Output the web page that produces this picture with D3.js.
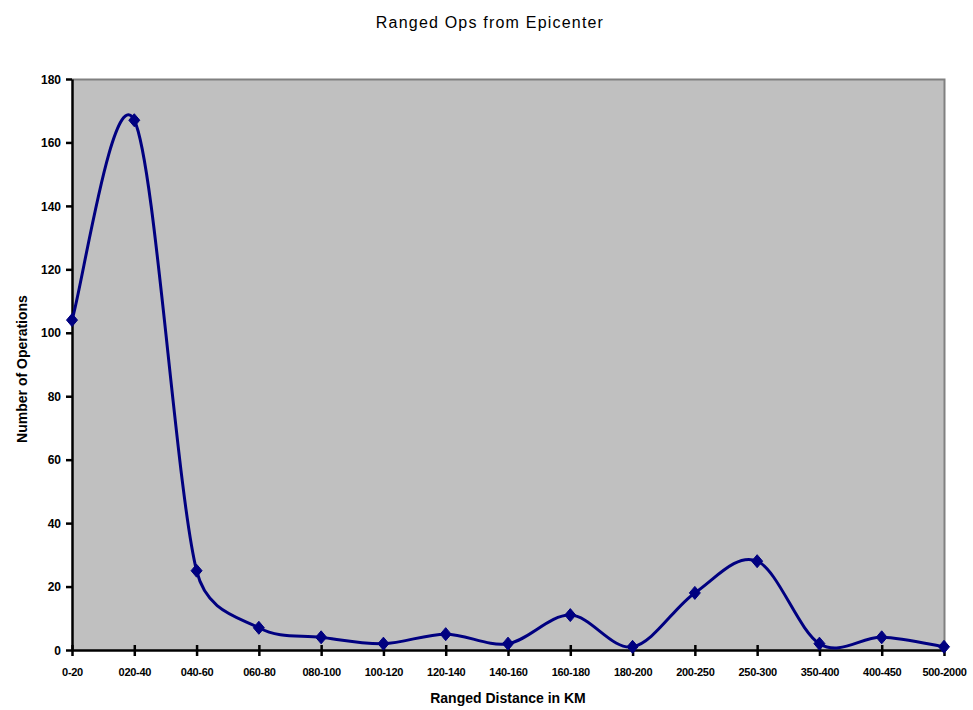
<!DOCTYPE html>
<html>
<head>
<meta charset="utf-8">
<script src="https://cdnjs.cloudflare.com/ajax/libs/d3/7.8.5/d3.min.js"></script>
<style>
  html, body { margin: 0; padding: 0; background: #ffffff; }
  svg { display: block; }
  text { font-family: "Liberation Sans", Arial, sans-serif; }
</style>
</head>
<body>
<svg id="chart" width="973" height="710"></svg>
<script>
// Distance bands (km) and the number of operations in each
const categories = ["0-20", "020-40", "040-60", "060-80", "080-100", "100-120", "120-140",
  "140-160", "160-180", "180-200", "200-250", "250-300", "350-400", "400-450", "500-2000"];
const operations = [104, 167, 25, 7, 4, 2, 5, 2, 11, 1, 18, 28, 2, 4, 1];
const yTicks = [0, 20, 40, 60, 80, 100, 120, 140, 160, 180];

const chartTitle = "Ranged Ops from Epicenter";
const xTitle = "Ranged Distance in KM";
const yTitle = "Number of Operations";

const svg = d3.select("#chart");
const plot = { left: 72, right: 944, top: 79, bottom: 650 };

const x = d3.scalePoint().domain(categories).range([plot.left, plot.right]);
const y = d3.scaleLinear().domain([0, 180]).range([plot.bottom, plot.top]);

// Plot area
svg.append("rect")
  .attr("x", plot.left).attr("y", plot.top)
  .attr("width", plot.right - plot.left).attr("height", plot.bottom - plot.top)
  .attr("fill", "#c0c0c0");
svg.append("path")
  .attr("d", `M${plot.left},${plot.top + 0.5}H${plot.right + 0.5}V${plot.bottom}`)
  .attr("fill", "none").attr("stroke", "#808080").attr("stroke-width", 2);

// Y axis
const yAxis = svg.append("g").attr("transform", `translate(${plot.left},0)`)
  .call(d3.axisLeft(y).tickValues(yTicks).tickSize(6).tickPadding(5).tickSizeOuter(0));
yAxis.select(".domain").attr("stroke", "#000").attr("stroke-width", 2.5);
yAxis.selectAll(".tick line").attr("stroke", "#000").attr("stroke-width", 2.5);
yAxis.selectAll(".tick text").attr("font-size", 12).attr("font-weight", "bold")
  .attr("fill", "#000").attr("dy", "0.35em");

// X axis
const xAxis = svg.append("g").attr("transform", `translate(0,${plot.bottom})`)
  .call(d3.axisBottom(x).tickSize(6).tickPadding(12).tickSizeOuter(0));
xAxis.select(".domain").attr("stroke", "#000").attr("stroke-width", 2.5);
xAxis.selectAll(".tick line").attr("stroke", "#000").attr("stroke-width", 2.5).attr("y1", -5);
xAxis.selectAll(".tick text").attr("font-size", 11).attr("font-weight", "bold")
  .attr("fill", "#000").attr("letter-spacing", "-0.3px");

// Smoothed line: Catmull-Rom style Bezier segments (arm = 1/6 of the
// neighbour chord), with each arm capped at half the segment length.
function smoothPath(pts) {
  const p = d3.path();
  const dist = (a, b) => Math.hypot(b[0] - a[0], b[1] - a[1]);
  p.moveTo(pts[0][0], pts[0][1]);
  for (let i = 0; i < pts.length - 1; i++) {
    const p0 = pts[Math.max(i - 1, 0)], p1 = pts[i], p2 = pts[i + 1];
    const p3 = pts[Math.min(i + 2, pts.length - 1)];
    const d12 = dist(p1, p2), d02 = dist(p0, p2), d13 = dist(p1, p3);
    const k1 = d02 / 6 < d12 / 2 ? 1 / 6 : (d12 / 2) / d02;
    const k2 = d13 / 6 < d12 / 2 ? 1 / 6 : (d12 / 2) / d13;
    const b1 = [p1[0] + k1 * (p2[0] - p0[0]), p1[1] + k1 * (p2[1] - p0[1])];
    const b2 = [p2[0] - k2 * (p3[0] - p1[0]), p2[1] - k2 * (p3[1] - p1[1])];
    p.bezierCurveTo(b1[0], b1[1], b2[0], b2[1], p2[0], p2[1]);
  }
  return p.toString();
}

const points = operations.map((v, i) => [x(categories[i]), y(v)]);
svg.append("path")
  .attr("d", smoothPath(points))
  .attr("fill", "none")
  .attr("stroke", "#000080")
  .attr("stroke-width", 3)
  .attr("stroke-linejoin", "round");

// Diamond markers
svg.append("g").selectAll("path")
  .data(operations)
  .join("path")
  .attr("transform", (d, i) => `translate(${x(categories[i])},${y(d)})`)
  .attr("d", "M0,-6.5L5.5,0L0,6.5L-5.5,0Z")
  .attr("fill", "#000080")
  .attr("stroke", "#000080")
  .attr("stroke-width", 1);

// Titles
svg.append("text")
  .attr("x", 490).attr("y", 28)
  .attr("text-anchor", "middle")
  .attr("font-size", 16)
  .attr("letter-spacing", "1.2px")
  .text(chartTitle);
svg.append("text")
  .attr("x", 508).attr("y", 703)
  .attr("text-anchor", "middle")
  .attr("font-size", 14).attr("font-weight", "bold")
  .text(xTitle);
svg.append("text")
  .attr("transform", "translate(27,369) rotate(-90)")
  .attr("text-anchor", "middle")
  .attr("font-size", 14).attr("font-weight", "bold")
  .text(yTitle);
</script>
</body>
</html>
